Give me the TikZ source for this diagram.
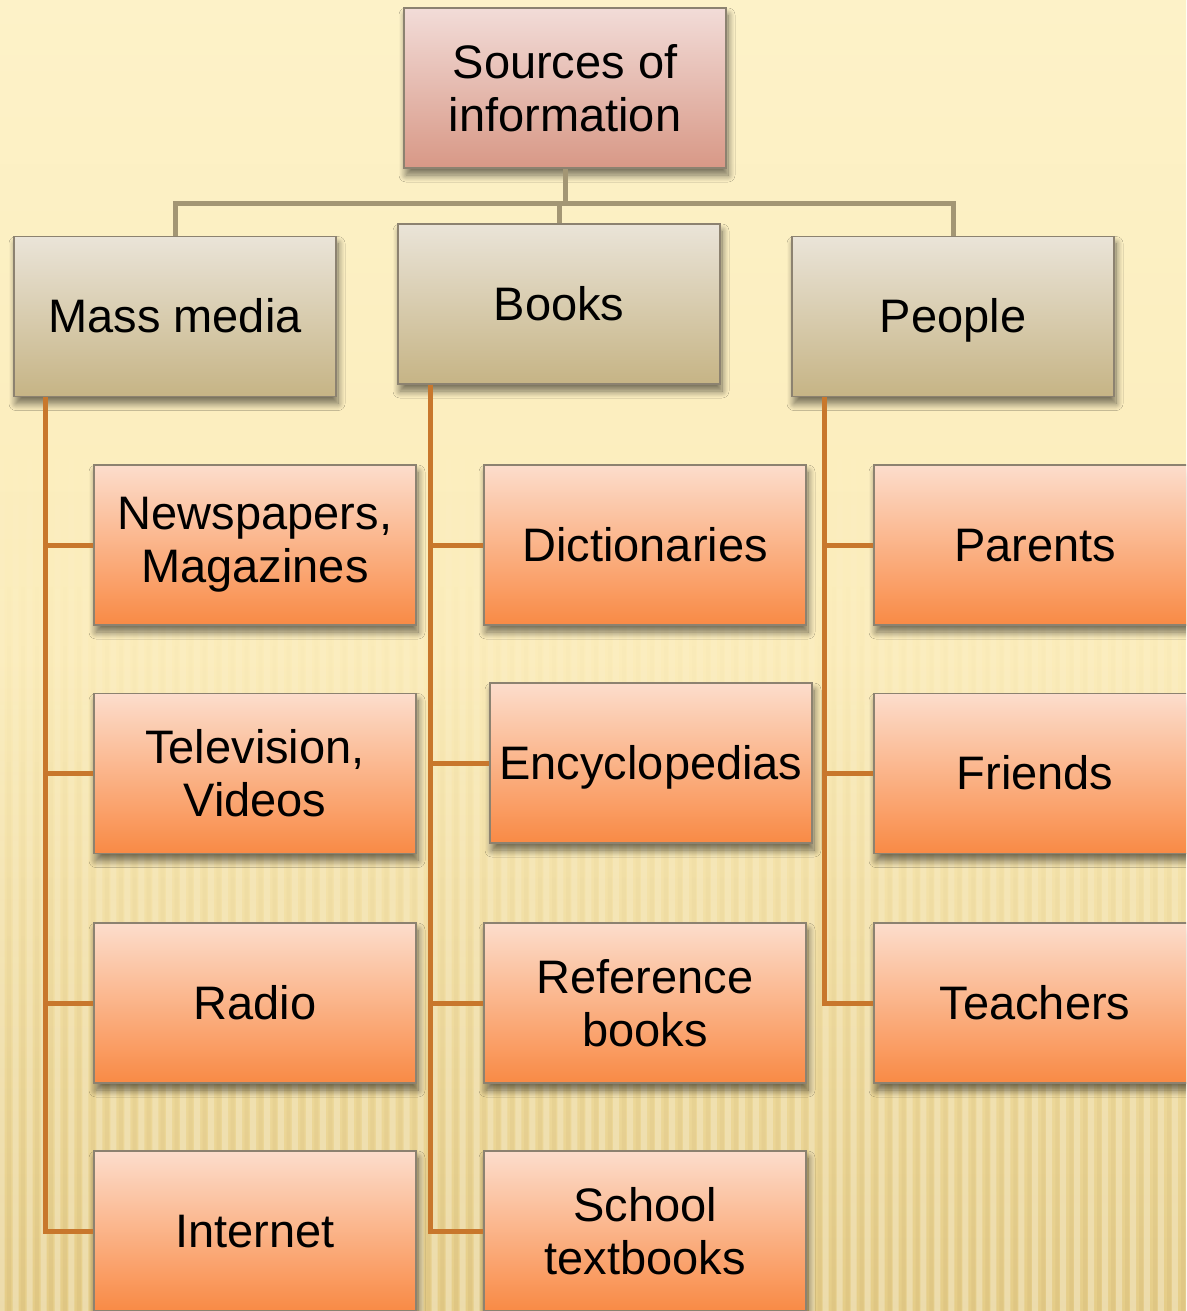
\documentclass[tikz,border=0pt]{standalone}
\usepackage{fontspec}
\setmainfont{Liberation Sans}
\usetikzlibrary{shadows,shadows.blur,fadings}
\definecolor{bgtop}{HTML}{FDF2C8}
\definecolor{bgmid}{HTML}{FBECBA}
\definecolor{bgbot}{HTML}{E5CD88}
\definecolor{roottop}{HTML}{F2DCD8}
\definecolor{rootbot}{HTML}{D89886}
\definecolor{tantop}{HTML}{EAE4D8}
\definecolor{tanbot}{HTML}{C6B485}
\definecolor{ortop}{HTML}{FCDDCC}
\definecolor{orbot}{HTML}{F98A45}
\definecolor{tanline}{HTML}{A39674}
\definecolor{orline}{HTML}{C8772C}
\definecolor{boxedge}{HTML}{8C8270}
\tikzset{
  basebox/.style={rectangle, draw=boxedge, line width=1.3pt, inner sep=0pt,
    minimum width=322pt, minimum height=160pt, align=center,
    font=\fontsize{47}{53}\selectfont,
    blur shadow={shadow xshift=2pt, shadow yshift=-7pt, shadow blur radius=7pt,
      shadow blur steps=12, shadow opacity=55}},
  onebox/.style={text height=34pt, text depth=2pt},
  rootbox/.style={basebox, top color=roottop, bottom color=rootbot},
  catbox/.style={basebox, onebox, top color=tantop, bottom color=tanbot},
  leafbox/.style={basebox, top color=ortop, bottom color=orbot},
  leafone/.style={leafbox, onebox},
  tanconn/.style={draw=tanline, line width=5pt},
  orconn/.style={draw=orline, line width=5pt}
}
\begin{document}
\begin{tikzpicture}[x=1pt,y=-1pt]
\useasboundingbox (0,0) rectangle (1186,1311);
\clip (0,0) rectangle (1186,1311);
% background
\fill[top color=bgtop, bottom color=bgbot, middle color=bgmid] (0,0) rectangle (1186,1311);
\fill[white, opacity=.3, path fading=north]
  \foreach \i in {0,...,85} {(\i*14,420) rectangle (\i*14+6,1311)};
\fill[black!40!brown, opacity=.05, path fading=north]
  \foreach \i in {0,...,85} {(\i*14+8,560) rectangle (\i*14+12,1311)};

% nodes
\node[rootbox] (root) at (565,88) {Sources of\\information};
\node[catbox] (mass) at (175,316.5) {Mass media};
\node[catbox] (books) at (559,304) {Books};
\node[catbox] (people) at (953,316.5) {People};

\node[leafbox] (news) at (255,545) {Newspapers,\\Magazines};
\node[leafbox] (tv) at (255,773.5) {Television,\\Videos};
\node[leafone] (radio) at (255,1003) {Radio};
\node[leafone] (internet) at (255,1231) {Internet};

\node[leafone] (dict) at (645,545) {Dictionaries};
\node[leafone] (ency) at (651,763) {Encyclopedias};
\node[leafbox] (ref) at (645,1003) {Reference\\books};
\node[leafbox] (school) at (645,1231) {School\\textbooks};

\node[leafone] (parents) at (1035,545) {Parents};
\node[leafone] (friends) at (1035,773.5) {Friends};
\node[leafone] (teachers) at (1035,1003) {Teachers};

% top connectors
\coordinate (bus) at (560,203);
\draw[tanconn] (root.south) -- (root.south |- bus);
\draw[tanconn] (mass.north) -- (mass.north |- bus) -- (people.north |- bus) -- (people.north);
\draw[tanconn] (books.north) -- (books.north |- bus);

% trunks
\coordinate (mt) at ([xshift=32pt]mass.south west);
\coordinate (bt) at ([xshift=33pt]books.south west);
\coordinate (pt) at ([xshift=33pt]people.south west);

\draw[orconn] (mt) |- (internet.west);
\draw[orconn] (mt |- news.west) -- (news.west);
\draw[orconn] (mt |- tv.west) -- (tv.west);
\draw[orconn] (mt |- radio.west) -- (radio.west);

\draw[orconn] (bt) |- (school.west);
\draw[orconn] (bt |- dict.west) -- (dict.west);
\draw[orconn] (bt |- ency.west) -- (ency.west);
\draw[orconn] (bt |- ref.west) -- (ref.west);

\draw[orconn] (pt) |- (teachers.west);
\draw[orconn] (pt |- parents.west) -- (parents.west);
\draw[orconn] (pt |- friends.west) -- (friends.west);
\end{tikzpicture}
\end{document}
